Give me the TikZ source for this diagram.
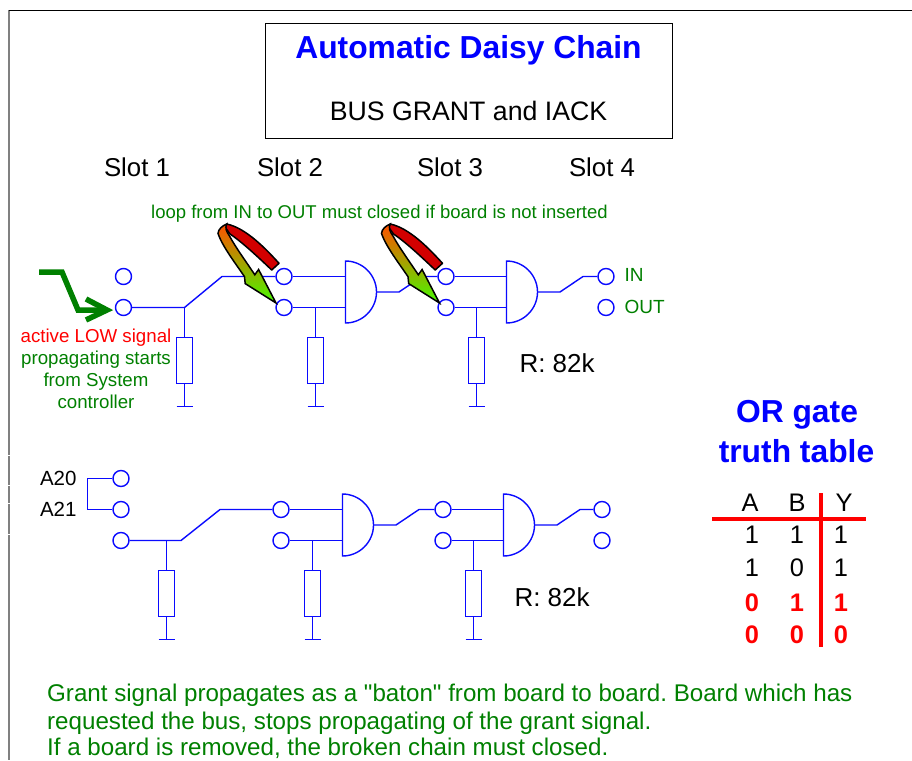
\documentclass[tikz,border=0pt]{standalone}
\usepackage{fontspec}
\setmainfont{Liberation Sans}
\newfontfamily\plainquote{Liberation Sans}
\definecolor{wireblue}{RGB}{10,10,255}
\definecolor{txtgreen}{RGB}{0,128,0}
\definecolor{titleblue}{RGB}{0,0,255}
\definecolor{tablered}{RGB}{255,0,0}
\definecolor{bandred}{RGB}{210,0,0}
\definecolor{edgegrey}{RGB}{128,128,128}
\definecolor{gradtop}{RGB}{255,80,0}
\definecolor{gradmid}{RGB}{190,190,0}
\definecolor{gradbot}{RGB}{70,250,0}
\tikzset{
  x=1pt,y=-1pt,
  wire/.style={draw=wireblue,line width=1.4pt},
  pin/.style={circle,draw=wireblue,line width=1.4pt,minimum size=16pt,inner sep=0pt},
  res/.style={rectangle,draw=wireblue,line width=1.4pt,minimum width=16pt,minimum height=46pt,inner sep=0pt},
  slot/.style={font=\fontsize{25.8}{28}\selectfont,text=black},
  small/.style={font=\fontsize{18.7}{20}\selectfont,text=txtgreen,anchor=base},
  rval/.style={font=\fontsize{26}{28}\selectfont,text=black,anchor=west},
  sigl/.style={font=\fontsize{19}{20}\selectfont,text=txtgreen,anchor=west},
  addr/.style={font=\fontsize{20.5}{22}\selectfont,text=black,anchor=west},
  hdr/.style={font=\fontsize{31.8}{36}\selectfont\bfseries,text=titleblue},
  tab/.style={font=\fontsize{25.4}{28}\selectfont,text=black},
  tabr/.style={font=\fontsize{25.4}{28}\selectfont\bfseries,text=tablered},
  note/.style={font=\fontsize{24.15}{28}\selectfont\frenchspacing,text=txtgreen,anchor=base west,inner sep=0pt},
  gate/.pic={
    \coordinate (-a) at (0,-15.5);
    \coordinate (-b) at (0,15.5);
    \coordinate (-o) at (31,0);
    \draw[wire] (0,-31) .. controls (17,-31) and (31,-17) .. (31,0)
       .. controls (31,17) and (17,31) .. (0,31) -- cycle;
  },
  loopband/.pic={
    \path[draw=black,line width=1.5pt,fill=bandred,line join=round]
      (279,263.3) .. controls (266,249) and (246,228) .. (226.7,224)
      -- (225,227) -- (230,234)
      .. controls (242,242) and (258,257) .. (271.7,270) -- cycle;
    \path[draw=black,line width=1.5pt,top color=gradtop,middle color=gradmid,bottom color=gradbot,line join=miter]
      (226.7,224) .. controls (222,226) and (218.5,229) .. (218,233.3)
      .. controls (222,246) and (236,264) .. (244.5,276.7)
      -- (245.2,283.6) -- (276,303) -- (258.6,269.5) -- (254.8,274.8)
      .. controls (245,260) and (236,248) .. (229.5,236)
      .. controls (226,231) and (225,228) .. (226.7,224) -- cycle;
  },
}
\begin{document}
\begin{tikzpicture}
\useasboundingbox (0,0) rectangle (912,760);
\fill[white] (0,0) rectangle (912,760);
\coordinate (ctl) at (9,10.5);
\coordinate (ctr) at (912,10.5);
\draw[edgegrey,line width=2pt] (ctl) -- (9,455) (9,456) -- (9,485) (9,486) -- (9,503) (9,504) -- (9,534) (9,535) -- (9,760);
\draw[black,line width=1pt] (ctl) -- (ctr);

% title
\node[draw=black,line width=1pt,minimum width=407pt,minimum height=114pt,inner sep=0pt] (titlebox) at (468.5,81) {};
\node[hdr] (title) at (468.5,50) {Automatic Daisy Chain};
\node[font=\fontsize{26.7}{28}\selectfont,text=black] (sub) at (468.5,111) {BUS GRANT and IACK};

\node[slot] (s1) at (137,167) {Slot 1};
\node[slot] (s2) at (290,167) {Slot 2};
\node[slot] (s3) at (450,167) {Slot 3};
\node[slot] (s4) at (602,167) {Slot 4};
\node[font=\fontsize{18.5}{20}\selectfont,text=txtgreen] (looptext) at (379.5,214) {loop from IN to OUT must closed if board is not inserted};

% top row
\node[pin] (a1) at (123.5,276.5) {};
\node[pin] (a2) at (123.5,307.5) {};
\node[pin] (b1) at (284,276.5) {};
\node[pin] (b2) at (284,307.5) {};
\node[pin] (c1) at (446,276.5) {};
\node[pin] (c2) at (446,307.5) {};
\node[pin] (d1) at (606,276.5) {};
\node[pin] (d2) at (606,307.5) {};
\pic (g1) at (345.5,292) {gate};
\pic (g2) at (506.5,292) {gate};
\node[res] (r1) at (184.5,360.5) {};
\node[res] (r2) at (315.5,360.5) {};
\node[res] (r3) at (476.5,360.5) {};
\coordinate (j1) at (184.5,307.5);
\coordinate (j2) at (315.5,307.5);
\coordinate (j3) at (476.5,307.5);
\coordinate (e1) at (222,276.5);
\coordinate (e2) at (399,292);
\coordinate (e3) at (422,276.5);
\coordinate (e4) at (560,292);
\coordinate (e5) at (583,276.5);
\coordinate (gnd1) at (184.5,406.5);
\coordinate (gnd2) at (315.5,406.5);
\coordinate (gnd3) at (476.5,406.5);
\draw[wire] (a2) -- (j1) -- (e1) -- (b1);
\draw[wire] (b1) -- (g1-a);
\draw[wire] (b2) -- (g1-b);
\draw[wire] (g1-o) -- (e2) -- (e3) -- (c1);
\draw[wire] (c1) -- (g2-a);
\draw[wire] (c2) -- (g2-b);
\draw[wire] (g2-o) -- (e4) -- (e5) -- (d1);
\draw[wire] (j1) -- (r1); \draw[wire] (r1) -- (gnd1);
\draw[wire] (j2) -- (r2); \draw[wire] (r2) -- (gnd2);
\draw[wire] (j3) -- (r3); \draw[wire] (r3) -- (gnd3);
\foreach \g in {gnd1,gnd2,gnd3} \draw[wire] ([xshift=-8pt]\g) -- ([xshift=8pt]\g);

\node[sigl] (in) at (621,275) {IN};
\node[sigl] (out) at (621,307) {OUT};
\node[rval] (rv1) at (516,363) {R: 82k};

% loop arrows
\pic at (0,0) {loopband};
\pic at (163.5,0) {loopband};

% start arrow
\coordinate (st) at (39,272);
\coordinate (st1) at (62,272);
\coordinate (st2) at (78,310);
\coordinate (st3) at (107,310);
\draw[txtgreen,line width=5.5pt,line join=miter] (st) -- (st1) -- (st2) -- (st3);
\draw[txtgreen,line width=5.5pt,line join=miter] (86,299) -- (107,310) -- (86,320);

\node[small,text=tablered] (t1) at (96,342) {active LOW signal};
\node[small] (t2) at (96,364) {propagating starts};
\node[small] (t3) at (96,386) {from System};
\node[small] (t4) at (96,408) {controller};

% bottom row
\node[pin] (p1) at (121,478.5) {};
\node[pin] (p2) at (121,509.5) {};
\node[pin] (p3) at (121,540.5) {};
\node[pin] (q1) at (281,509.5) {};
\node[pin] (q2) at (281,540.5) {};
\node[pin] (u1) at (443,509.5) {};
\node[pin] (u2) at (443,540.5) {};
\node[pin] (v1) at (602,509.5) {};
\node[pin] (v2) at (602,540.5) {};
\pic (g3) at (342.5,525) {gate};
\pic (g4) at (503.5,525) {gate};
\node[res] (r4) at (166.5,593.5) {};
\node[res] (r5) at (312.5,593.5) {};
\node[res] (r6) at (473.5,593.5) {};
\coordinate (k1) at (166.5,540.5);
\coordinate (k2) at (312.5,540.5);
\coordinate (k3) at (473.5,540.5);
\coordinate (sw1) at (181,540.5);
\coordinate (sw2) at (220,509.5);
\coordinate (f1) at (396,525);
\coordinate (f2) at (419,509.5);
\coordinate (f3) at (557,525);
\coordinate (f4) at (580,509.5);
\coordinate (gnd4) at (166.5,639.5);
\coordinate (gnd5) at (312.5,639.5);
\coordinate (gnd6) at (473.5,639.5);
\coordinate (br1) at (87.5,478.5);
\coordinate (br2) at (87.5,509.5);
\draw[wire] (p1) -- (br1) -- (br2) -- (p2);
\draw[wire] (p3) -- (sw1) -- (sw2) -- (q1);
\draw[wire] (q1) -- (g3-a);
\draw[wire] (q2) -- (g3-b);
\draw[wire] (g3-o) -- (f1) -- (f2) -- (u1);
\draw[wire] (u1) -- (g4-a);
\draw[wire] (u2) -- (g4-b);
\draw[wire] (g4-o) -- (f3) -- (f4) -- (v1);
\draw[wire] (k1) -- (r4); \draw[wire] (r4) -- (gnd4);
\draw[wire] (k2) -- (r5); \draw[wire] (r5) -- (gnd5);
\draw[wire] (k3) -- (r6); \draw[wire] (r6) -- (gnd6);
\foreach \g in {gnd4,gnd5,gnd6} \draw[wire] ([xshift=-8pt]\g) -- ([xshift=8pt]\g);

\node[addr] (a20) at (36.5,478) {A20};
\node[addr] (a21) at (36.5,509) {A21};
\node[rval] (rv2) at (511,597) {R: 82k};

% truth table
\node[hdr] (or1) at (797,415) {OR gate};
\node[hdr] (or2) at (796.5,451) {truth table};
\coordinate (hl) at (712,519);
\coordinate (hr) at (866,519);
\coordinate (vt) at (820.5,493);
\coordinate (vb) at (820.5,647);
\draw[tablered,line width=4pt] (hl) -- (hr);
\draw[tablered,line width=4pt] (vt) -- (vb);
\node[tab] at (750,503) {A};
\node[tab] at (797,503) {B};
\node[tab] at (844,503) {Y};
\node[tab] at (752,535) {1};
\node[tab] at (797,535) {1};
\node[tab] at (841,535) {1};
\node[tab] at (752,568) {1};
\node[tab] at (797,568) {0};
\node[tab] at (841,568) {1};
\node[tabr] at (752,603) {0};
\node[tabr] at (797,603) {1};
\node[tabr] at (841,603) {1};
\node[tabr] at (752,635) {0};
\node[tabr] at (797,635) {0};
\node[tabr] at (841,635) {0};

% note
\node[note] (n1) at (47,701.5) {Grant signal propagates as a {\plainquote"}baton{\plainquote"} from board to board. Board which has};
\node[note] (n2) at (47,729) {requested the bus, stops propagating of the grant signal.};
\node[note] (n3) at (47,755.5) {If a board is removed, the broken chain must closed.};
\end{tikzpicture}
\end{document}
